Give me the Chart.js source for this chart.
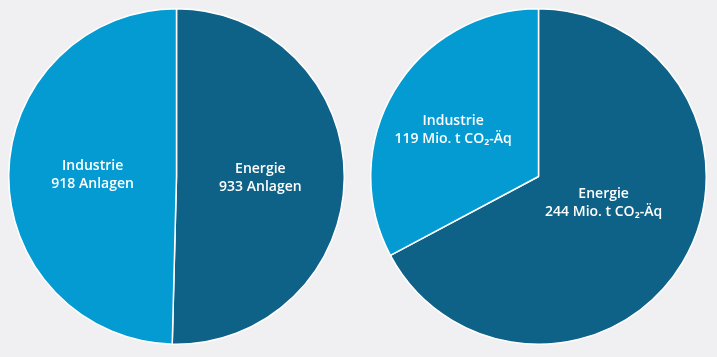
<!DOCTYPE html>
<html><head><meta charset="utf-8">
<script src="https://cdn.jsdelivr.net/npm/chart.js@4"></script>
<style>
html,body{margin:0;padding:0;background:#f0f0f2;width:717px;height:357px;overflow:hidden;}
.box{position:absolute;top:8px;width:337px;height:337px;}
</style></head><body>
<div class="box" style="left:8px"><canvas id="c1"></canvas></div>
<div class="box" style="left:370px"><canvas id="c2"></canvas></div>
<script>
const categories = ["Energie", "Industrie"];
const anlagen = [933, 918];
const emissionen = [244, 119];
const labelsLeft = [["Energie", "933 Anlagen"], ["Industrie", "918 Anlagen"]];
const labelsRight = [["Energie", "244 Mio. t CO₂-Äq"], ["Industrie", "119 Mio. t CO₂-Äq"]];
const colors = ["#0e6287", "#049bd3"];

const labelPlugin = {
  id: 'sliceLabels',
  afterDatasetsDraw(chart, args, opts) {
    const ctx = chart.ctx;
    const meta = chart.getDatasetMeta(0);
    ctx.save();
    ctx.fillStyle = '#ffffff';
    ctx.font = '600 14px "Open Sans", sans-serif';
    ctx.textAlign = 'center';
    ctx.textBaseline = 'middle';
    meta.data.forEach((arc, i) => {
      const p = arc.getProps(['x','y','startAngle','endAngle','outerRadius'], true);
      const mid = (p.startAngle + p.endAngle) / 2 + opts.shift[i];
      const r = p.outerRadius * opts.factors[i];
      const cx = p.x + Math.cos(mid) * r;
      const cy = p.y + Math.sin(mid) * r;
      const lines = opts.lines[i];
      lines.forEach((t, k) => {
        ctx.fillText(t, cx, cy + (k - (lines.length - 1) / 2) * 18);
      });
    });
    ctx.restore();
  }
};

function makePie(id, values, lines, factors, shift) {
  new Chart(document.getElementById(id), {
    type: 'pie',
    data: {
      labels: categories,
      datasets: [{ data: values, backgroundColor: colors, borderColor: '#ffffff', borderWidth: 1.5 }]
    },
    options: {
      responsive: true, maintainAspectRatio: false, animation: false,
      layout: { padding: 0 },
      plugins: { legend: { display: false }, tooltip: { enabled: false },
        sliceLabels: { lines: lines, factors: factors, shift: shift } }
    },
    plugins: [labelPlugin]
  });
}
makePie('c1', anlagen, labelsLeft, [0.5, 0.5], [0, 0]);
makePie('c2', emissionen, labelsRight, [0.42, 0.58], [-0.15, -0.04]);
</script>
</body></html>
